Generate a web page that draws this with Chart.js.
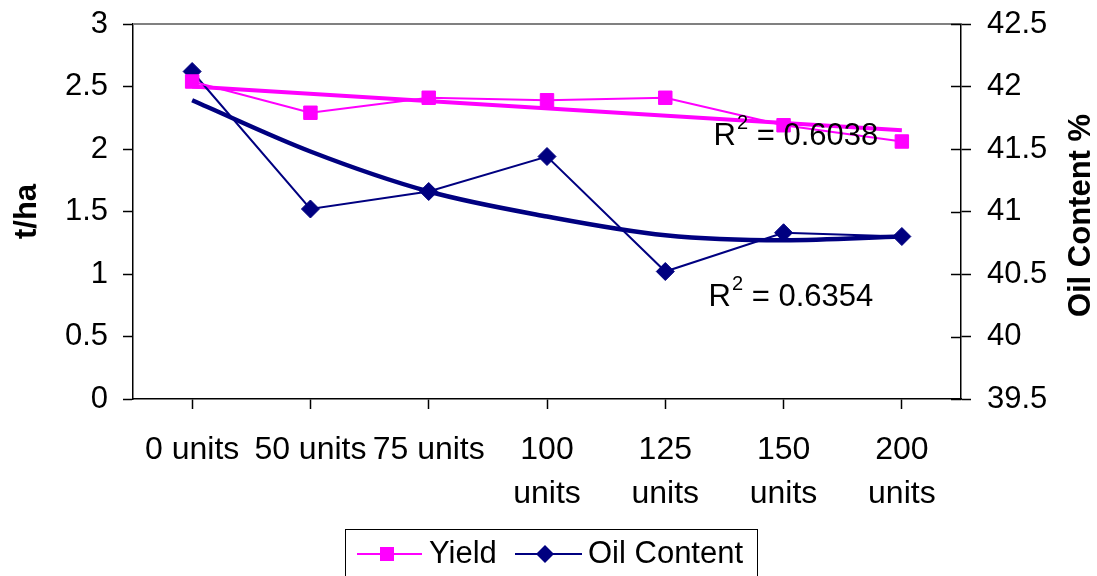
<!DOCTYPE html>
<html>
<head>
<meta charset="utf-8">
<script src="https://cdn.jsdelivr.net/npm/chart.js@4.4.1/dist/chart.umd.min.js"></script>
<style>
  body { margin: 0; background: #fff; }
  #wrap { width: 1097px; height: 576px; }
</style>
</head>
<body>
<div id="wrap"><canvas id="myChart" width="1097" height="576"></canvas></div>
<script>
// data
var categories = ['0 units', '50 units', '75 units', ['100', 'units'], ['125', 'units'], ['150', 'units'], ['200', 'units']];
var yieldVals = [2.54, 2.29, 2.41, 2.39, 2.41, 2.19, 2.06];
var oilVals = [42.12, 41.02, 41.16, 41.44, 40.52, 40.83, 40.80];
// trendlines as drawn in the picture
var yieldTrendEnds = [2.50, 2.15];
var oilTrend = [41.89, 41.48, 41.16, 40.96, 40.81, 40.77, 40.80];
var leftTicks = ['0', '0.5', '1', '1.5', '2', '2.5', '3'];
var rightTicks = ['39.5', '40', '40.5', '41', '41.5', '42', '42.5'];
var rSquared = ['0.6038', '0.6354'];

var MAGENTA = '#ff00ff';
var NAVY = '#000080';
var FONT = "'Liberation Sans', Arial, sans-serif";

var catKey = function (c) { return Array.isArray(c) ? c.join(' ') : c; };

// extra drawing: top border, inner ticks of right axis, right title, R² labels, legend box
var extras = {
  id: 'extras',
  afterDraw: function (chart) {
    var ctx = chart.ctx;
    var area = chart.chartArea;
    var x = chart.scales.x, y = chart.scales.y, y1 = chart.scales.y1;
    ctx.save();

    // gray top border of plot area
    ctx.strokeStyle = '#808080';
    ctx.lineWidth = 2;
    ctx.beginPath();
    ctx.moveTo(area.left, area.top);
    ctx.lineTo(area.right, area.top);
    ctx.stroke();

    // right axis ticks cross the axis
    ctx.strokeStyle = '#000';
    ctx.lineWidth = 1.5;
    y1.ticks.forEach(function (t) {
      var py = Math.round(y1.getPixelForValue(t.value)) + 0.5;
      ctx.beginPath();
      ctx.moveTo(area.right - 10, py);
      ctx.lineTo(area.right, py);
      ctx.stroke();
    });

    // right axis title, reading bottom to top
    ctx.save();
    ctx.translate(1081, (area.top + area.bottom) / 2 + 4);
    ctx.rotate(-Math.PI / 2);
    ctx.fillStyle = '#000';
    ctx.font = 'bold 31px ' + FONT;
    ctx.textAlign = 'center';
    ctx.textBaseline = 'middle';
    ctx.fillText('Oil Content %', 0, 0);
    ctx.restore();

    // R² labels
    function rLabel(text, px, py) {
      ctx.fillStyle = '#000';
      ctx.textBaseline = 'middle';
      ctx.textAlign = 'left';
      ctx.font = '31px ' + FONT;
      ctx.fillText('R', px, py);
      var w = ctx.measureText('R').width;
      ctx.font = '20px ' + FONT;
      ctx.fillText('2', px + w + 1, py - 13);
      var w2 = ctx.measureText('2').width;
      ctx.font = '31px ' + FONT;
      ctx.fillText(' = ' + text, px + w + w2 + 1, py);
    }
    var cx = x.getPixelForValue(5);
    rLabel(rSquared[0], cx - 70, y.getPixelForValue(2.1));
    rLabel(rSquared[1], cx - 75, y.getPixelForValue(0.816));

    // legend
    var ly = 554;
    ctx.strokeStyle = '#000';
    ctx.lineWidth = 1;
    ctx.strokeRect(345.5, 529.5, 412, 60);

    ctx.strokeStyle = MAGENTA;
    ctx.lineWidth = 2;
    ctx.beginPath(); ctx.moveTo(357, ly); ctx.lineTo(422, ly); ctx.stroke();
    ctx.fillStyle = MAGENTA;
    ctx.fillRect(380, ly - 7, 14, 14);

    ctx.strokeStyle = NAVY;
    ctx.beginPath(); ctx.moveTo(515, ly); ctx.lineTo(582, ly); ctx.stroke();
    ctx.fillStyle = NAVY;
    ctx.beginPath();
    ctx.moveTo(545, ly - 9); ctx.lineTo(554, ly); ctx.lineTo(545, ly + 9); ctx.lineTo(536, ly);
    ctx.closePath(); ctx.fill();

    ctx.fillStyle = '#000';
    ctx.font = '31px ' + FONT;
    ctx.textBaseline = 'middle';
    ctx.textAlign = 'left';
    ctx.fillText('Yield', 429, ly);
    ctx.fillText('Oil Content', 588, ly);

    ctx.restore();
  }
};

var data = {
  labels: categories.map(catKey),
  datasets: [
    {
      label: 'Yield',
      data: yieldVals,
      yAxisID: 'y',
      borderColor: MAGENTA,
      backgroundColor: MAGENTA,
      borderWidth: 2,
      pointStyle: 'rect',
      pointRadius: 9.5,
      pointBorderWidth: 1,
      tension: 0
    },
    {
      label: 'Oil Content',
      data: oilVals,
      yAxisID: 'y1',
      borderColor: NAVY,
      backgroundColor: NAVY,
      borderWidth: 2,
      pointStyle: 'rectRot',
      pointRadius: 9,
      pointBorderWidth: 1,
      tension: 0
    },
    {
      label: 'Yield trend',
      data: [
        { x: catKey(categories[0]), y: yieldTrendEnds[0] },
        { x: catKey(categories[categories.length - 1]), y: yieldTrendEnds[1] }
      ],
      yAxisID: 'y',
      borderColor: MAGENTA,
      borderWidth: 4,
      pointRadius: 0,
      tension: 0
    },
    {
      label: 'Oil trend',
      data: oilTrend,
      yAxisID: 'y1',
      borderColor: NAVY,
      borderWidth: 4.5,
      pointRadius: 0,
      cubicInterpolationMode: 'monotone'
    }
  ]
};

// keep the plot area where the picture has it
function noPad(s) {
  s.paddingTop = 0;
  s.paddingBottom = 0;
}

var config = {
  type: 'line',
  data: data,
  plugins: [extras],
  options: {
    responsive: false,
    animation: false,
    layout: { padding: { top: 24, left: 0, right: 0, bottom: 0 } },
    plugins: {
      legend: { display: false },
      tooltip: { enabled: false }
    },
    scales: {
      x: {
        type: 'category',
        offset: true,
        grid: { display: true, drawOnChartArea: false, tickLength: 10, color: '#000', tickWidth: 1.5 },
        border: { display: true, color: '#000', width: 1.5 },
        ticks: {
          color: '#000',
          font: { family: FONT, size: 32, lineHeight: 1.375 },
          maxRotation: 0,
          minRotation: 0,
          autoSkip: false,
          padding: 19,
          callback: function (v, i) { return categories[i]; }
        },
        afterFit: function (s) { s.height = 177; }
      },
      y: {
        position: 'left',
        min: 0,
        max: 3,
        ticks: {
          stepSize: 0.5,
          color: '#000',
          padding: 15,
          font: { family: FONT, size: 31 },
          callback: function (v, i) { return leftTicks[i]; }
        },
        grid: { drawOnChartArea: false, tickLength: 10, color: '#000', tickWidth: 1.5 },
        border: { display: true, color: '#000', width: 1.5 },
        title: {
          display: true,
          text: 't/ha',
          color: '#000',
          font: { family: FONT, size: 31, weight: 'bold', lineHeight: 1.1 },
          padding: { top: 10, bottom: 0 }
        },
        afterFit: function (s) { s.width = 133; noPad(s); }
      },
      y1: {
        position: 'right',
        min: 39.5,
        max: 42.5,
        ticks: {
          stepSize: 0.5,
          color: '#000',
          padding: 16,
          font: { family: FONT, size: 31 },
          callback: function (v, i) { return rightTicks[i]; }
        },
        grid: { drawOnChartArea: false, tickLength: 10, color: '#000', tickWidth: 1.5 },
        border: { display: true, color: '#000', width: 1.5 },
        afterFit: function (s) { s.width = 136; noPad(s); }
      }
    }
  }
};

var myChart = new Chart(document.getElementById('myChart'), config);
</script>
</body>
</html>
